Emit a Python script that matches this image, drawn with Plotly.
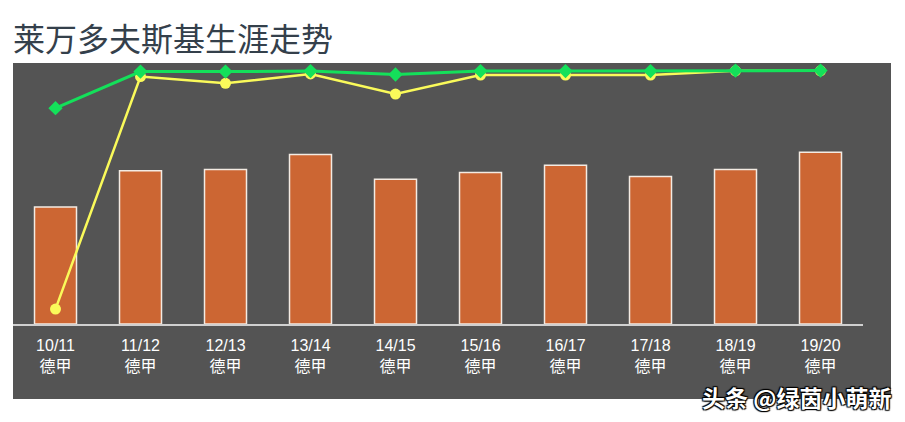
import plotly.graph_objects as go

seasons = ["10/11", "11/12", "12/13", "13/14", "14/15", "15/16", "16/17", "17/18", "18/19", "19/20"]
league = ["德甲"] * 10
bar_values = [44.8, 58.7, 59.2, 64.9, 55.5, 58.0, 60.8, 56.5, 59.2, 65.8]
green_values = [82.7, 96.7, 96.7, 96.9, 95.6, 96.9, 96.9, 96.9, 97.1, 97.1]
yellow_values = [5.7, 94.8, 92.2, 95.8, 88.1, 95.4, 95.4, 95.4, 97.0, 97.0]

tick_text = [f"{s}<br>{l}" for s, l in zip(seasons, league)]
x = list(range(len(seasons)))

fig = go.Figure()
fig.add_trace(go.Bar(
    x=x, y=bar_values,
    marker=dict(color="#cc6633", line=dict(color="#f3ebe3", width=1.5)),
    width=0.494, showlegend=False, hoverinfo="skip",
))
fig.add_trace(go.Scatter(
    x=x, y=yellow_values, mode="lines+markers",
    line=dict(color="#fafa5a", width=2.5),
    marker=dict(symbol="circle", size=11, color="#fafa5a"),
    showlegend=False, hoverinfo="skip",
))
fig.add_trace(go.Scatter(
    x=x, y=green_values, mode="lines+markers",
    line=dict(color="#14e05a", width=3),
    marker=dict(symbol="diamond", size=11, color="#14e05a"),
    showlegend=False, hoverinfo="skip",
))

fig.update_layout(
    width=905, height=422,
    margin=dict(l=13, r=42, t=63, b=98),
    paper_bgcolor="white",
    plot_bgcolor="#545454",
    font=dict(family="Liberation Sans, Noto Sans CJK SC, sans-serif"),
    title=dict(
        text="莱万多夫斯基生涯走势",
        x=0, xref="paper", xanchor="left",
        y=0.905, yref="container", yanchor="middle",
        font=dict(family="Noto Sans CJK SC", size=32, color="#34404b"),
    ),
    xaxis=dict(
        range=[-0.5, 9.5], tickmode="array", tickvals=x, ticktext=tick_text,
        showgrid=False, zeroline=False, showline=True, linecolor="#d0d0d0", linewidth=2,
        ticks="", ticklabelstandoff=6,
        tickfont=dict(size=16, color="white", family="Liberation Sans, Noto Sans CJK SC"),
        fixedrange=True,
    ),
    yaxis=dict(range=[0, 100], visible=False, showgrid=False, zeroline=False, fixedrange=True),
    shapes=[dict(
        type="rect", xref="paper", yref="paper",
        x0=0, x1=(891 - 13) / 850, y0=(324 - 399) / 261, y1=1,
        fillcolor="#545454", line=dict(width=0), layer="below",
    )],
    annotations=[dict(
        text="<b>头条 @绿茵小萌新</b>", xref="paper", yref="paper",
        x=(893 - 13) / 850, y=(324 - 397) / 261, xanchor="right", yanchor="middle",
        showarrow=False,
        font=dict(family="Noto Sans CJK SC", size=23, color="white",
                  shadow="1px 1px 1px #000, -1px -1px 1px #000, 1px -1px 1px #000, -1px 1px 1px #000"),
    )],
)

fig.write_html("out.html", config={"displayModeBar": False},
               post_script="document.body.style.margin='0';document.body.style.padding='0';")
